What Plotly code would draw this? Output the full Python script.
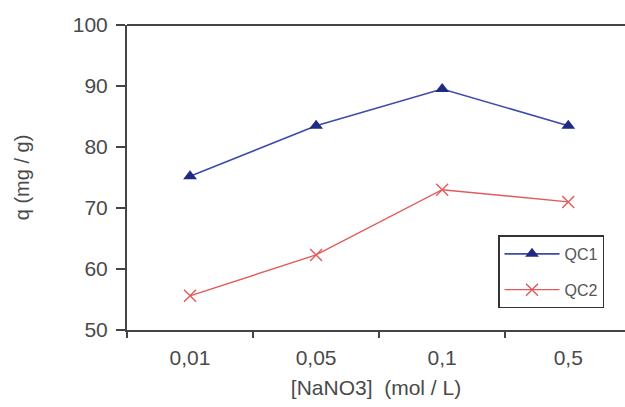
import plotly.graph_objects as go

# NaNO3 concentration (mol/L) categories and adsorbed amounts q (mg/g)
concentrations = ["0,01", "0,05", "0,1", "0,5"]
qc1 = [75.2, 83.5, 89.5, 83.5]
qc2 = [55.6, 62.3, 73.0, 71.0]

fig = go.Figure()
fig.add_trace(go.Scatter(
    x=concentrations, y=qc1, name="QC1", mode="lines+markers", legendgroup="a",
    line=dict(color="#3d4aa8", width=1.6),
    marker=dict(symbol="triangle-up", size=12, color="#1f2a85"),
))
fig.add_trace(go.Scatter(
    x=concentrations, y=qc2, name="QC2", mode="lines+markers", legendgroup="b",
    line=dict(color="#e25a5a", width=1.4),
    marker=dict(symbol="x-thin-open", size=12, color="#e25a5a", line=dict(width=1.4, color="#e25a5a")),
))

txt = "#4a4a4a"
fam = "Liberation Sans, Arial, sans-serif"

fig.update_layout(
    width=625, height=407, autosize=False,
    margin=dict(l=127, r=0, t=25, b=77),
    paper_bgcolor="white", plot_bgcolor="white",
    font=dict(family=fam, size=21, color=txt),
    showlegend=True,
    legend=dict(
        x=0.745, y=0.31, xanchor="left", yanchor="top",
        bgcolor="white", bordercolor="#333333", borderwidth=1.5,
        font=dict(family=fam, size=16, color="#555555"),
        itemwidth=55, tracegroupgap=12,
    ),
    xaxis=dict(
        type="category", range=[-0.5, 3.45],
        showline=True, linecolor="#444444", linewidth=2,
        ticks="outside", tickson="boundaries", ticklen=6, tickcolor="#444444", tickwidth=1.5,
        ticklabelstandoff=8,
        showgrid=False, zeroline=False,
        tickfont=dict(size=21, color=txt),
        title=dict(text="[NaNO3]\u00a0\u00a0(mol / L)", font=dict(size=21, color=txt), standoff=12),
    ),
    yaxis=dict(
        range=[50, 100], dtick=10,
        showline=True, linecolor="#444444", linewidth=2,
        ticks="outside", ticklen=9, tickcolor="#444444", tickwidth=1.5,
        ticklabelstandoff=4,
        showgrid=False, zeroline=False,
        tickfont=dict(size=21, color=txt),
        title=dict(text="q (mg / g)", font=dict(size=20, color=txt), standoff=38),
    ),
    shapes=[dict(type="line", xref="paper", yref="paper", x0=0, x1=1, y0=1, y1=1,
                 line=dict(color="#444444", width=2))],
)

fig.write_html("out.html")
